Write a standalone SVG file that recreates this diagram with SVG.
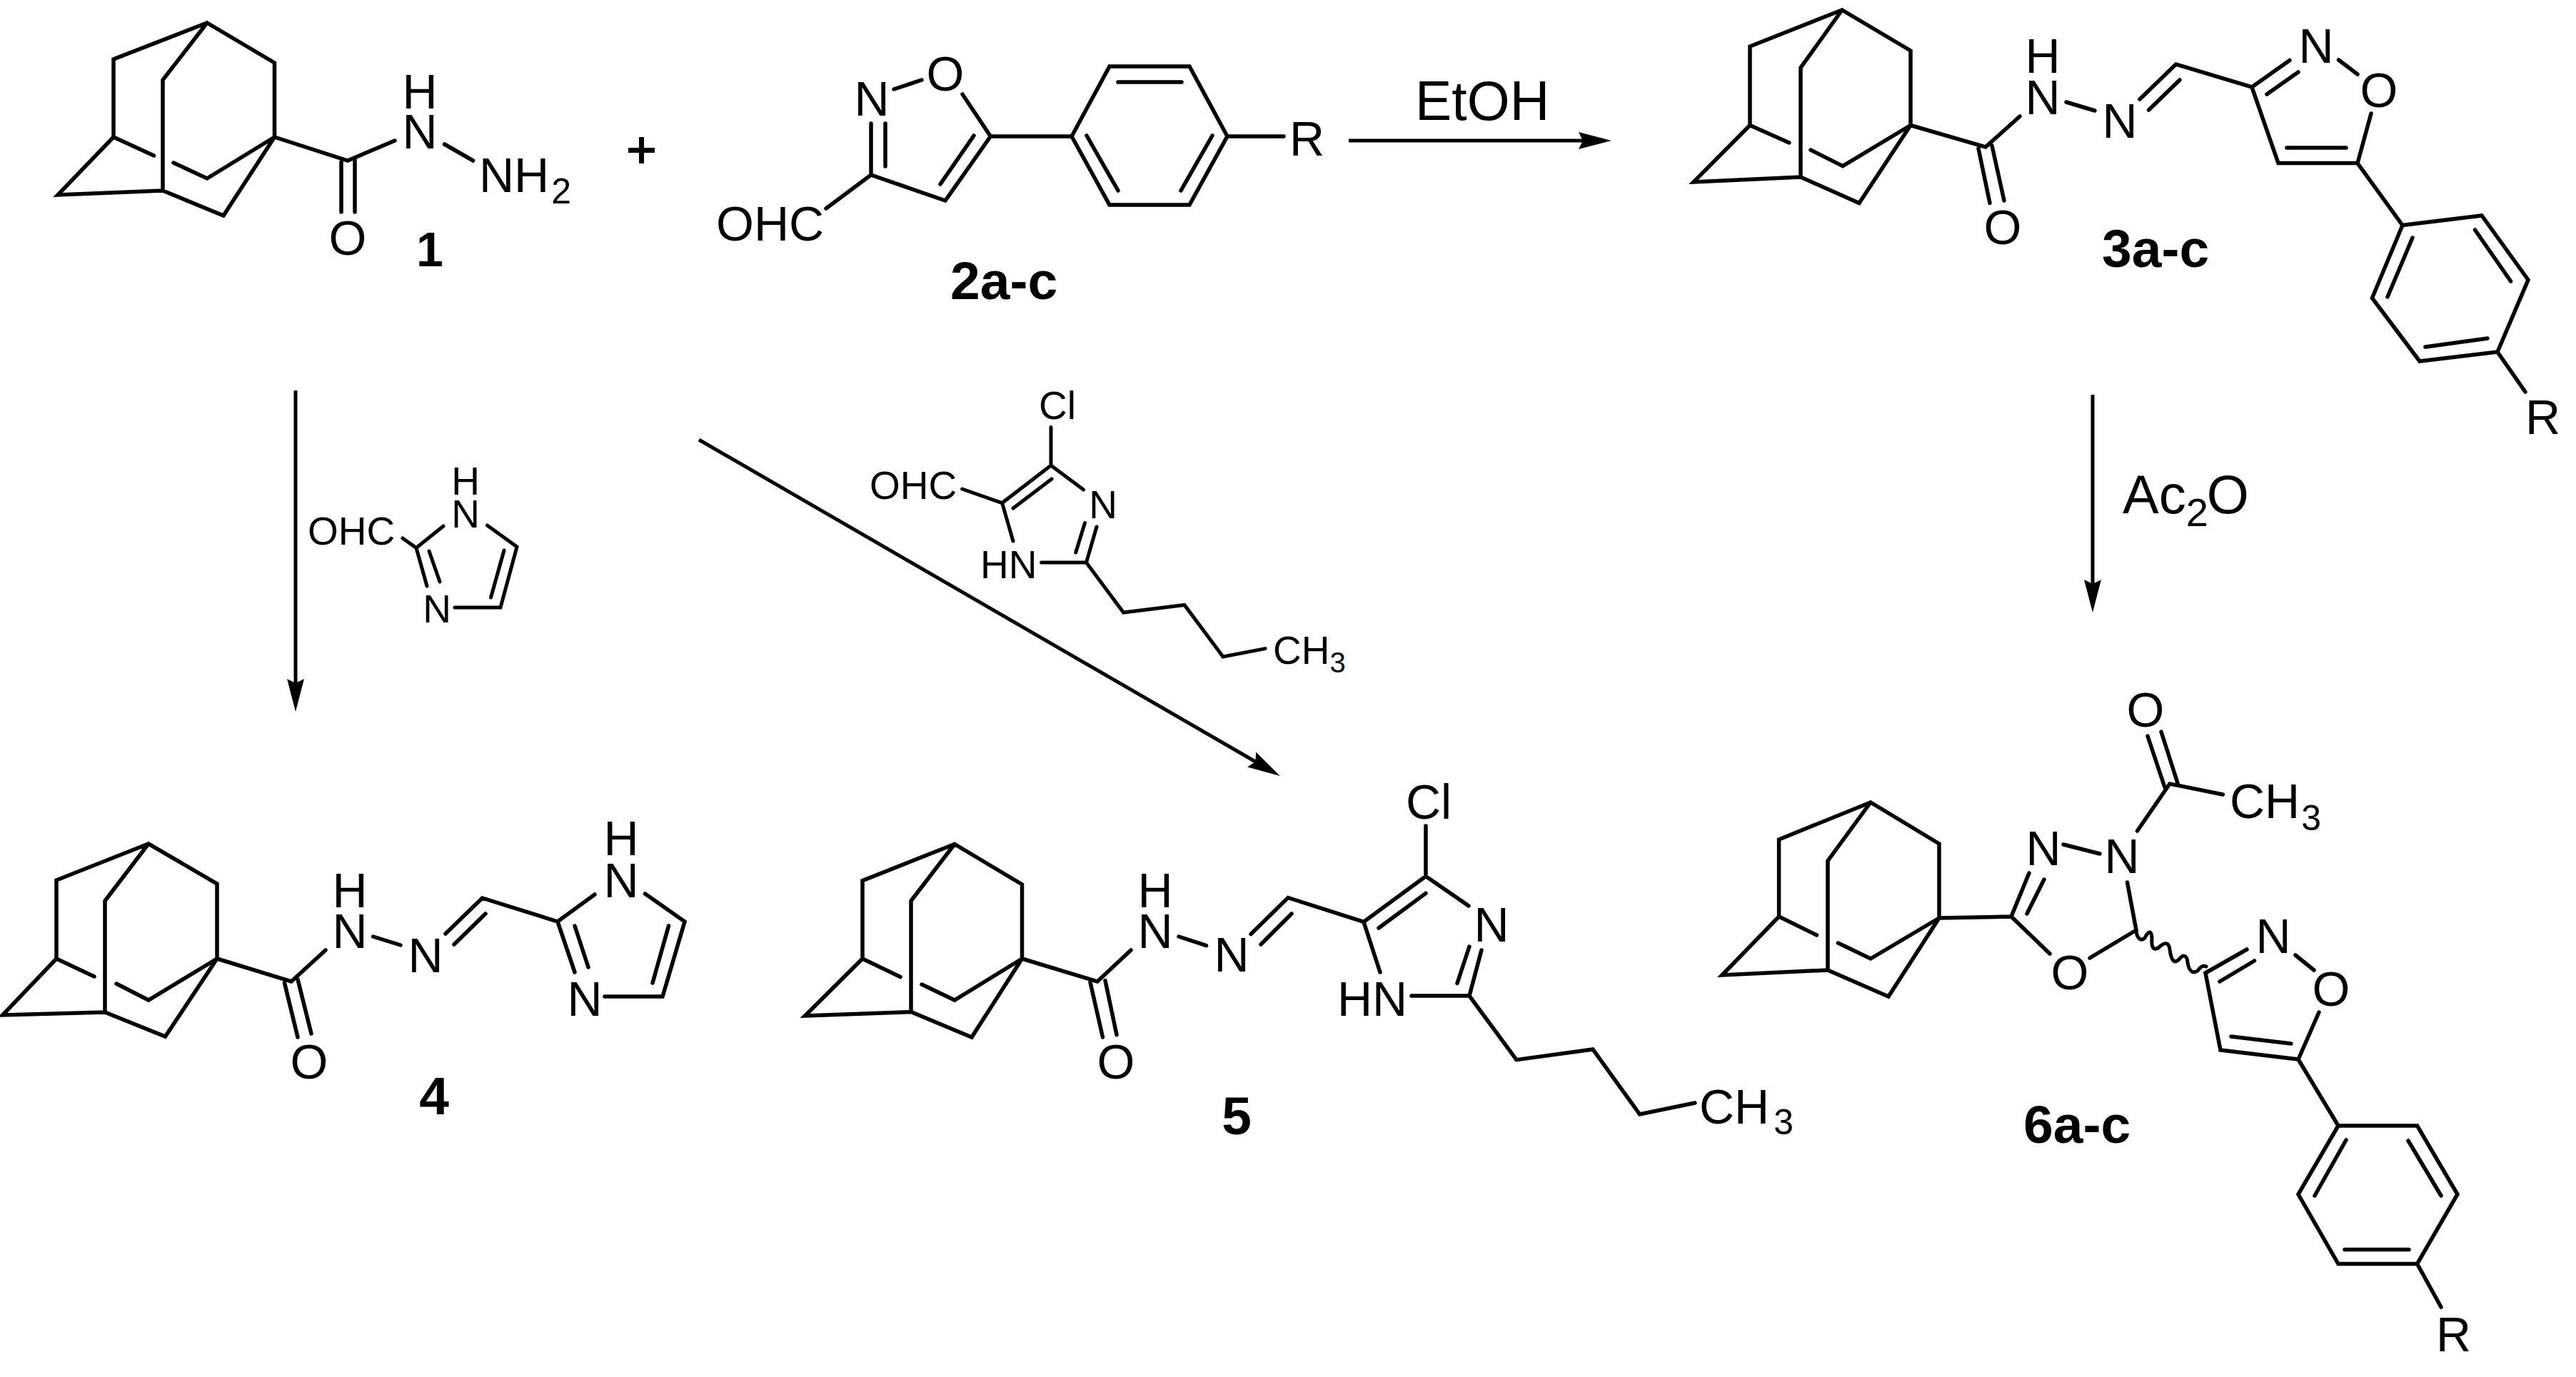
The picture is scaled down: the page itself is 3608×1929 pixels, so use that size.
<svg xmlns="http://www.w3.org/2000/svg" width="3608" height="1929" viewBox="0 0 3608 1929">
<defs>
<marker id="head" markerUnits="userSpaceOnUse" markerWidth="50" markerHeight="28" refX="6" refY="14" orient="auto"><path d="M0 2L46 14L0 26L6 14Z" fill="#000"/></marker>
</defs>
<style>
.b{fill:none;stroke:#000;stroke-width:5.5;stroke-linecap:round;stroke-linejoin:miter}
.s{stroke-width:5}
.arrow{fill:none;stroke:#000;stroke-width:5;marker-end:url(#head)}
text{font-family:"Liberation Sans",Arial,sans-serif;fill:#000}
.t{font-size:68px}
.m{text-anchor:middle}
.sm{font-size:55px}
.r{font-size:77px}
.lab{font-size:75px;font-weight:700}
.sub{font-size:50px}
.ssub{font-size:40px}
</style>
<rect width="3608" height="1929" fill="#fff"/>

<g id="connectors">
<path class="arrow" d="M1889 197H2217"/>
<path class="arrow" d="M2931 553V818"/>
<path class="arrow" d="M414 547V957"/>
<path class="arrow" d="M979 616L1758.4 1067"/>
</g>

<g id="plus"><path d="M880 207H917V214H880ZM895 192H902V229H895Z" fill="#000"/></g>

<g id="reagent-etoh"><text class="r" x="1982" y="168">EtOH</text></g>
<g id="reagent-ac2o"><text class="r" x="2973" y="719" style="font-size:76px">Ac<tspan dy="18" style="font-size:56px">2</tspan><tspan dx="-2" dy="-18">O</tspan></text></g>

<g id="compound-1">
<path class="b" d="M159 192V83L290 32L384.5 88V192M290 32L228 112V267M159 192L81 273L228 267L313 302L384.5 192L290 250L243 228M159 192L215.5 218M384.5 192L487 225L553 197M478 227V297M497 224V297M622.5 202L662.6 225"/>
<text class="t m" x="487" y="357">O</text>
<text class="t m"><tspan x="588" y="152">H</tspan><tspan x="588" y="208">N</tspan></text>
<text class="t" x="671" y="269">NH<tspan class="sub" dx="3" dy="16">2</tspan></text>
<text class="lab" style="font-size:68px" x="583" y="373">1</text>
</g>

<g id="compound-2a-c">
<path class="b" d="M1220 173V245L1324 281L1387.4 191L1348 132M1240 173V233M1317 258L1364 190M1252 125L1291 112M1220 245L1157 292M1387.4 191H1501L1554 93H1666L1719 191L1666 287H1554L1501 191M1566 115H1655M1522 190L1566 267M1698 190L1654 267M1719 191H1798"/>
<text class="t m" x="1324" y="127">O</text>
<text class="t m" x="1221" y="162">N</text>
<text class="t" x="1003" y="337">OHC</text>
<text class="t" x="1806" y="218">R</text>
<text class="lab" x="1331" y="419">2a-c</text>
</g>

<g id="compound-3a-c">
<path class="b" d="M2451 175.500V65L2580 14L2676 71V175.500M2580 14L2522 95V248M2451 175.500L2372 255L2522 248L2604 284.500L2676 175.500L2581 232.700L2536 210M2451 175.500L2506 200M2676 175.500L2781 206L2829 163M2771 208L2787 284.500M2790 204L2807 281M2894 143L2934 155M2997 139L3047.600 90L3154 122L3207 84.500M3053 112L3009.600 154M3219 101L3175 132M3275.600 84L3302 104M3321 159L3302 228.600L3191 228.600L3154 122M3203 207H3286M3302 228.600L3365 315.500L3476 302L3541 392L3498 493L3389 506L3322.500 417.500L3365 315.500M3466.500 322L3516.600 394M3379 333L3344 416M3484 474L3397 486M3498 493L3537 549"/>
<text class="t m" x="2805" y="342">O</text>
<text class="t m"><tspan x="2861" y="102">H</tspan><tspan x="2861" y="160">N</tspan></text>
<text class="t m" x="2969" y="193">N</text>
<text class="t m" x="3244" y="88">N</text>
<text class="t m" x="3332" y="150">O</text>
<text class="t" x="3537" y="608">R</text>
<text class="lab" x="2944" y="374">3a-c</text>
</g>

<g id="reagent-imidazole">
<path class="b s" d="M564 754L583 767.500L621 737M682.500 736L724 766L701 851H637M706 771L687.500 837M583 767.500L598 821M601 772L616 815"/>
<text class="sm" x="431" y="763">OHC</text>
<text class="sm m"><tspan x="652" y="693">H</tspan><tspan x="652" y="739">N</tspan></text>
<text class="sm m" x="612" y="872">N</text>
</g>

<g id="reagent-chloroimidazole">
<path class="b s" d="M1472 598.600V652L1403.600 704.600L1347.600 685M1473 671L1419 712M1403.600 704.600L1419 758M1472 652L1517.600 686M1536 738L1521.500 788M1519.500 732.500L1506.700 774M1458.600 788H1521.500L1573.500 858L1659 847.500L1713 920L1772 908.600"/>
<text class="sm" x="1455" y="587">Cl</text>
<text class="sm" x="1218" y="699">OHC</text>
<text class="sm" x="1373" y="810">HN</text>
<text class="sm m" x="1545" y="726">N</text>
<text class="sm" x="1783" y="930">CH<tspan class="ssub" dy="12">3</tspan></text>
</g>

<g id="compound-4">
<path class="b" d="M79 1343V1233L208 1182L304 1238V1343M208 1182L147 1262V1418M79 1343L3.500 1422L147 1418L231.500 1452L304 1343L208 1401L163 1378M79 1343L132 1368M304 1343L408 1375L456 1331M398.500 1377L417 1453M417 1372L436 1448M522.600 1312L561 1324M624 1308L675.500 1258L781 1291L833 1253M680 1280L636 1323M903.500 1252L959 1291L928 1396H847M936.500 1297L914 1377M781 1291L805 1362M805 1297L824 1355"/>
<text class="t m" x="433" y="1511">O</text>
<text class="t m"><tspan x="490" y="1271">H</tspan><tspan x="490" y="1328">N</tspan></text>
<text class="t m" x="596" y="1362">N</text>
<text class="t m"><tspan x="870" y="1198">H</tspan><tspan x="870" y="1257">N</tspan></text>
<text class="t m" x="819" y="1423">N</text>
<text class="lab m" x="608" y="1561">4</text>
</g>

<g id="compound-5">
<path class="b" d="M1208 1343V1233.600L1337 1182.500L1431.500 1239V1343M1337 1182.500L1276 1262V1417.500M1208 1343L1127.500 1423L1276 1417.500L1361 1453L1431.500 1343L1337 1401L1291 1379M1208 1343L1261 1368.600M1431.500 1343L1537 1375L1584 1331M1527 1376L1544.500 1453M1548 1373.600L1564 1449.600M1651 1312L1689.600 1324.600M1752 1308.600L1804 1257.500L1910 1291.400L1997 1227.500V1157M1809 1280L1766 1323M1931 1300L1997 1251.400M1997 1227.500L2057 1269M2075 1331L2058 1395M2058 1326L2041 1377.500M1977 1395H2058L2124 1484.600L2231 1470L2296.600 1561L2374 1545M1910 1291.400L1933 1362"/>
<text class="t" x="1969" y="1147">Cl</text>
<text class="t m" x="1563" y="1511">O</text>
<text class="t m"><tspan x="1618" y="1271">H</tspan><tspan x="1618" y="1328">N</tspan></text>
<text class="t m" x="1725" y="1361">N</text>
<text class="t m" x="2089" y="1319">N</text>
<text class="t" x="1873" y="1423">HN</text>
<text class="t" x="2380" y="1574">CH<tspan class="sub" dx="6" dy="15">3</tspan></text>
<text class="lab m" x="1732" y="1589">5</text>
</g>

<g id="compound-6a-c">
<path class="b" d="M2491.600 1284V1176L2620 1124L2716 1182V1286M2620 1124L2560 1206V1359M2491.600 1284L2412 1366L2560 1359L2645 1396L2716 1286L2620 1343L2574.500 1321M2491.600 1284L2544.500 1310M2716 1286L2817 1284L2842 1223M2839 1280L2863 1232M2890 1183L2941 1196M2993.500 1164L3039 1098L3113.400 1113M3032 1103L3008 1031M3050 1097L3027 1025M2979.500 1236L2992 1303L2927 1342M2817 1284L2871 1336"/>
<path class="b s" d="M2992 1305C2994 1317 3000 1318 3004 1314C3010 1302 3014 1304 3014 1316C3013 1330 3018 1332 3025 1326C3034 1318 3038 1322 3039 1330C3041 1347 3046 1350 3052 1344C3058 1336 3063 1338 3064 1348C3066 1362 3072 1364 3078 1360C3082 1354 3086 1352 3090 1354"/>
<path class="b" d="M3147 1330L3089 1363L3110 1471L3219 1484L3248 1418M3109 1375L3157.500 1346M3215 1338L3241 1359M3125 1452L3209 1462M3219 1484L3275 1577H3385.600L3442 1673L3385.600 1770.500H3275L3219 1673L3275 1577M3286 1597L3242 1675M3373 1598L3419 1675M3374 1750.600H3284M3385.600 1770.500L3419 1831"/>
<text class="t m" x="3005" y="1018">O</text>
<text class="t" x="3123" y="1146">CH<tspan class="sub" dx="2" dy="17">3</tspan></text>
<text class="t m" x="2862" y="1212">N</text>
<text class="t m" x="2972" y="1223">N</text>
<text class="t m" x="2899" y="1386">O</text>
<text class="t m" x="3184" y="1335">N</text>
<text class="t m" x="3265" y="1409">O</text>
<text class="t" x="3412" y="1893">R</text>
<text class="lab" x="2834" y="1601">6a-c</text>
</g>
</svg>
